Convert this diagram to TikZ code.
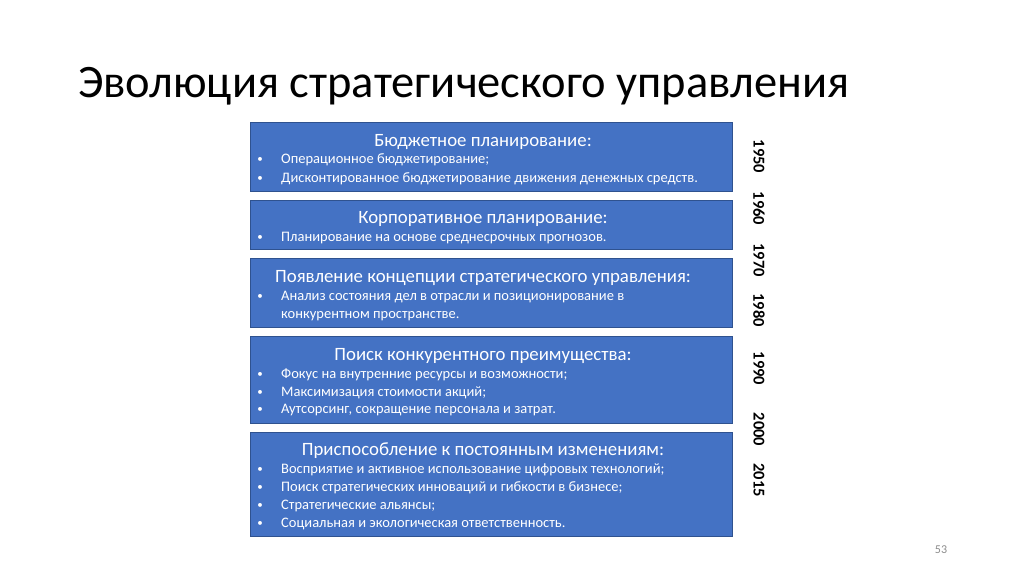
\documentclass[tikz,border=0pt]{standalone}
\usepackage{fontspec}
\setmainfont{Carlito}
\definecolor{boxblue}{HTML}{4472C4}
\definecolor{boxedge}{HTML}{2F528F}
\definecolor{pgnum}{HTML}{8C8C8C}
\tikzset{
  box/.style={draw=boxedge, line width=0.8pt, fill=boxblue, anchor=north west, inner sep=0pt, minimum width=482pt},
  head/.style={text=white, anchor=base, inner sep=0pt, font=\fontsize{18.8}{22}\selectfont},
  bul/.style={text=white, anchor=base west, inner sep=0pt, font=\fontsize{14.5}{18}\selectfont},
  dot/.style={text=white, anchor=base, inner sep=0pt, font=\fontsize{11}{14}\selectfont},
  year/.style={text=black, rotate=-90, inner sep=0pt, font=\bfseries\fontsize{16.5}{18}\selectfont},
}
\begin{document}
\begin{tikzpicture}[x=1pt,y=-1pt]
\useasboundingbox (0,0) rectangle (1024,574);
\fill[white] (0,0) rectangle (1024,574);
\node[anchor=base west, inner sep=0pt, font=\fontsize{46.5}{52}\selectfont] (title) at (78,97) {Эволюция стратегического управления};
% boxes
\node[box, minimum height=69pt] (b1) at (250,122) {};
\node[box, minimum height=49pt] (b2) at (250,200) {};
\node[box, minimum height=69pt] (b3) at (250,258) {};
\node[box, minimum height=87pt] (b4) at (250,336) {};
\node[box, minimum height=104pt] (b5) at (250,432) {};
% box 1
\node[head] (h1) at (483,146) {Бюджетное планирование:};
\node[dot] (d11) at (260,162) {•}; \node[bul] (t11) at (281,163) {Операционное бюджетирование;};
\node[dot] (d12) at (260,181) {•}; \node[bul] (t12) at (281,182) {Дисконтированное бюджетирование движения денежных средств.};
% box 2
\node[head] (h2) at (483,223) {Корпоративное планирование:};
\node[dot] (d21) at (260,240) {•}; \node[bul] (t21) at (281,241) {Планирование на основе среднесрочных прогнозов.};
% box 3
\node[head] (h3) at (483,282) {Появление концепции стратегического управления:};
\node[dot] (d31) at (260,299) {•}; \node[bul] (t31) at (281,300) {Анализ состояния дел в отрасли и позиционирование в};
\node[bul] (t32) at (281,318) {конкурентном пространстве.};
% box 4
\node[head] (h4) at (483,360) {Поиск конкурентного преимущества:};
\node[dot] (d41) at (260,377) {•}; \node[bul] (t41) at (281,378) {Фокус на внутренние ресурсы и возможности;};
\node[dot] (d42) at (260,395) {•}; \node[bul] (t42) at (281,396) {Максимизация стоимости акций;};
\node[dot] (d43) at (260,412) {•}; \node[bul] (t43) at (281,413) {Аутсорсинг, сокращение персонала и затрат.};
% box 5
\node[head] (h5) at (483,455) {Приспособление к постоянным изменениям:};
\node[dot] (d51) at (260,472) {•}; \node[bul] (t51) at (281,473) {Восприятие и активное использование цифровых технологий;};
\node[dot] (d52) at (260,490) {•}; \node[bul] (t52) at (281,491) {Поиск стратегических инноваций и гибкости в бизнесе;};
\node[dot] (d53) at (260,508) {•}; \node[bul] (t53) at (281,509) {Стратегические альянсы;};
\node[dot] (d54) at (260,526) {•}; \node[bul] (t54) at (281,527) {Социальная и экологическая ответственность.};
% years
\node[year] (y1) at (759,156.5) {1950};
\node[year] (y2) at (759,208.5) {1960};
\node[year] (y3) at (759,260) {1970};
\node[year] (y4) at (759,310) {1980};
\node[year] (y5) at (759,368.5) {1990};
\node[year] (y6) at (759,429.5) {2000};
\node[year] (y7) at (759,480) {2015};
% page number
\node[anchor=base, inner sep=0pt, text=pgnum, font=\fontsize{12}{14}\selectfont] (pg) at (941,553) {53};
\end{tikzpicture}
\end{document}
